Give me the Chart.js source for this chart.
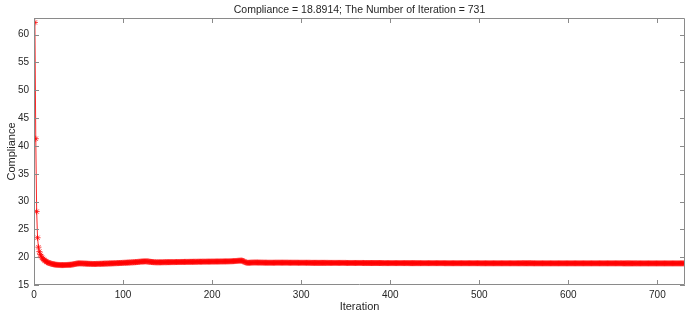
<!DOCTYPE html>
<html>
<head>
<meta charset="utf-8">
<script src="https://cdn.jsdelivr.net/npm/chart.js@4"></script>
<style>
  html, body { margin: 0; padding: 0; background: #fff; }
  #wrap { width: 693px; height: 321px; position: relative; }
</style>
</head>
<body>
<div id="wrap"><canvas id="c" width="693" height="321"></canvas></div>
<script>
const titleText = "Compliance = 18.8914; The Number of Iteration = 731";
const xLabel = "Iteration";
const yLabel = "Compliance";
const xTicks = [0, 100, 200, 300, 400, 500, 600, 700];
const yTicks = [15, 20, 25, 30, 35, 40, 45, 50, 55, 60];

const compliance = [
62.2, 41.3, 28.2, 23.5, 21.8, 21.0, 20.5, 20.2, 19.9, 19.7, 19.55, 19.4, 19.3, 19.2, 19.1, 19.0, 18.95, 18.9, 18.85, 18.8,
18.76, 18.72, 18.69, 18.66, 18.64, 18.62, 18.61, 18.6, 18.59, 18.58, 18.58, 18.58, 18.58, 18.59, 18.59, 18.6, 18.6, 18.61, 18.62, 18.63,
18.64, 18.66, 18.68, 18.7, 18.74, 18.78, 18.82, 18.85, 18.87, 18.88, 18.89, 18.89, 18.88, 18.88, 18.87, 18.86, 18.85, 18.84, 18.83, 18.82,
18.81, 18.8, 18.8, 18.79, 18.79, 18.78, 18.78, 18.78, 18.78, 18.79, 18.79, 18.8, 18.8, 18.81, 18.81, 18.82, 18.82, 18.83, 18.84, 18.84,
18.85, 18.86, 18.86, 18.87, 18.88, 18.88, 18.89, 18.9, 18.9, 18.91, 18.92, 18.92, 18.93, 18.94, 18.94, 18.95, 18.96, 18.96, 18.97, 18.98,
18.99, 19.0, 19.0, 19.01, 19.02, 19.03, 19.04, 19.05, 19.06, 19.07, 19.08, 19.09, 19.1, 19.11, 19.12, 19.14, 19.15, 19.17, 19.18, 19.2,
19.21, 19.22, 19.23, 19.24, 19.25, 19.25, 19.24, 19.22, 19.2, 19.18, 19.16, 19.14, 19.12, 19.11, 19.1, 19.09, 19.08, 19.08, 19.08, 19.08,
19.08, 19.08, 19.09, 19.09, 19.09, 19.1, 19.1, 19.1, 19.1, 19.11, 19.11, 19.11, 19.11, 19.12, 19.12, 19.12, 19.12, 19.12, 19.13, 19.13,
19.13, 19.13, 19.13, 19.14, 19.14, 19.14, 19.14, 19.14, 19.15, 19.15, 19.15, 19.15, 19.15, 19.16, 19.16, 19.16, 19.16, 19.16, 19.17, 19.17,
19.17, 19.17, 19.17, 19.18, 19.18, 19.18, 19.18, 19.18, 19.19, 19.19, 19.19, 19.19, 19.19, 19.2, 19.2, 19.2, 19.2, 19.2, 19.21, 19.21,
19.21, 19.21, 19.21, 19.22, 19.22, 19.22, 19.22, 19.22, 19.23, 19.23, 19.23, 19.23, 19.24, 19.24, 19.24, 19.25, 19.25, 19.25, 19.26, 19.26,
19.27, 19.27, 19.28, 19.29, 19.3, 19.31, 19.32, 19.33, 19.35, 19.36, 19.37, 19.38, 19.38, 19.36, 19.3, 19.2, 19.1, 19.04, 19.0, 18.99,
18.99, 19.0, 19.01, 19.02, 19.03, 19.03, 19.04, 19.04, 19.04, 19.04, 19.04, 19.03, 19.03, 19.03, 19.02, 19.02, 19.02, 19.01, 19.01, 19.01,
19.01, 19.0, 19.0, 19.0, 19.0, 19.0, 19.0, 19.0, 19.0, 19.0, 19.01, 19.01, 19.01, 19.01, 19.01, 19.01, 19.01, 19.01, 19.01, 19.01,
19.01, 19.01, 19.01, 19.01, 19.01, 19.0, 19.0, 19.0, 19.0, 19.0, 19.0, 19.0, 19.0, 19.0, 19.0, 19.0, 18.99, 18.99, 18.99, 18.99,
18.99, 18.99, 18.99, 18.99, 18.99, 18.99, 18.99, 18.99, 18.99, 18.99, 18.98, 18.98, 18.98, 18.98, 18.98, 18.98, 18.98, 18.98, 18.98, 18.98,
18.98, 18.98, 18.98, 18.98, 18.98, 18.98, 18.98, 18.98, 18.98, 18.98, 18.97, 18.97, 18.97, 18.97, 18.97, 18.97, 18.97, 18.97, 18.97, 18.97,
18.97, 18.97, 18.97, 18.97, 18.97, 18.97, 18.97, 18.97, 18.97, 18.97, 18.96, 18.96, 18.96, 18.96, 18.96, 18.96, 18.96, 18.96, 18.96, 18.96,
18.96, 18.96, 18.96, 18.96, 18.96, 18.96, 18.96, 18.96, 18.96, 18.96, 18.95, 18.95, 18.95, 18.95, 18.95, 18.95, 18.95, 18.95, 18.95, 18.95,
18.95, 18.95, 18.95, 18.95, 18.95, 18.95, 18.95, 18.95, 18.95, 18.95, 18.94, 18.94, 18.94, 18.94, 18.94, 18.94, 18.94, 18.94, 18.94, 18.94,
18.94, 18.94, 18.94, 18.94, 18.94, 18.94, 18.94, 18.94, 18.94, 18.94, 18.94, 18.94, 18.94, 18.94, 18.94, 18.94, 18.94, 18.94, 18.94, 18.94,
18.93, 18.93, 18.93, 18.93, 18.93, 18.93, 18.93, 18.93, 18.93, 18.93, 18.93, 18.93, 18.93, 18.93, 18.93, 18.93, 18.93, 18.93, 18.93, 18.93,
18.93, 18.93, 18.93, 18.93, 18.93, 18.93, 18.93, 18.93, 18.93, 18.93, 18.93, 18.93, 18.93, 18.93, 18.93, 18.93, 18.93, 18.93, 18.93, 18.93,
18.92, 18.92, 18.92, 18.92, 18.92, 18.92, 18.92, 18.92, 18.92, 18.92, 18.92, 18.92, 18.92, 18.92, 18.92, 18.92, 18.92, 18.92, 18.92, 18.92,
18.92, 18.92, 18.92, 18.92, 18.92, 18.92, 18.92, 18.92, 18.92, 18.92, 18.92, 18.92, 18.92, 18.92, 18.92, 18.92, 18.92, 18.92, 18.92, 18.92,
18.91, 18.91, 18.91, 18.91, 18.91, 18.91, 18.91, 18.91, 18.91, 18.91, 18.91, 18.91, 18.91, 18.91, 18.91, 18.91, 18.91, 18.91, 18.91, 18.91,
18.91, 18.91, 18.91, 18.91, 18.91, 18.91, 18.91, 18.91, 18.91, 18.91, 18.91, 18.91, 18.91, 18.91, 18.91, 18.91, 18.91, 18.91, 18.91, 18.91,
18.91, 18.91, 18.91, 18.91, 18.91, 18.91, 18.91, 18.91, 18.91, 18.91, 18.91, 18.91, 18.91, 18.91, 18.91, 18.91, 18.91, 18.91, 18.91, 18.91,
18.9, 18.9, 18.9, 18.9, 18.9, 18.9, 18.9, 18.9, 18.9, 18.9, 18.9, 18.9, 18.9, 18.9, 18.9, 18.9, 18.9, 18.9, 18.9, 18.9,
18.9, 18.9, 18.9, 18.9, 18.9, 18.9, 18.9, 18.9, 18.9, 18.9, 18.9, 18.9, 18.9, 18.9, 18.9, 18.9, 18.9, 18.9, 18.9, 18.9,
18.9, 18.9, 18.9, 18.9, 18.9, 18.9, 18.9, 18.9, 18.9, 18.9, 18.9, 18.9, 18.9, 18.9, 18.9, 18.9, 18.9, 18.9, 18.9, 18.9,
18.9, 18.9, 18.9, 18.9, 18.9, 18.9, 18.9, 18.9, 18.9, 18.9, 18.9, 18.9, 18.9, 18.9, 18.9, 18.9, 18.9, 18.9, 18.9, 18.9,
18.9, 18.9, 18.9, 18.9, 18.9, 18.9, 18.9, 18.9, 18.9, 18.9, 18.9, 18.9, 18.9, 18.9, 18.9, 18.9, 18.9, 18.9, 18.9, 18.9,
18.89, 18.89, 18.89, 18.89, 18.89, 18.89, 18.89, 18.89, 18.89, 18.89, 18.89, 18.89, 18.89, 18.89, 18.89, 18.89, 18.89, 18.89, 18.89, 18.89,
18.89, 18.89, 18.89, 18.89, 18.89, 18.89, 18.89, 18.89, 18.89, 18.89, 18.89, 18.89, 18.89, 18.89, 18.89, 18.89, 18.89, 18.89, 18.89, 18.89,
18.89, 18.89, 18.89, 18.89, 18.89, 18.89, 18.89, 18.89, 18.89, 18.89, 18.89, 18.89, 18.89, 18.89, 18.89, 18.89, 18.89, 18.89, 18.89, 18.89,
18.89, 18.89, 18.89, 18.89, 18.89, 18.89, 18.89, 18.89, 18.89, 18.89, 18.8914
];
const iterations = compliance.map((_, i) => i + 1);

const FONT = "'Liberation Sans', Arial, Helvetica, sans-serif";
const AXIS_COLOR = '#8a8a8a';
const TEXT_COLOR = '#262626';

const boxPlugin = {
  id: 'matlabBox',
  afterDraw(chart) {
    const {ctx, chartArea: a, scales: {x, y}} = chart;
    ctx.save();
    ctx.strokeStyle = AXIS_COLOR;
    ctx.lineWidth = 1;
    ctx.beginPath();
    ctx.rect(Math.round(a.left) + 0.5, Math.round(a.top) + 0.5,
             Math.round(a.right - a.left) - 1, Math.round(a.bottom - a.top) - 1);
    const L = 5;
    xTicks.forEach(v => {
      const px = Math.round(x.getPixelForValue(v)) + 0.5;
      ctx.moveTo(px, a.bottom); ctx.lineTo(px, a.bottom - L);
      ctx.moveTo(px, a.top); ctx.lineTo(px, a.top + L);
    });
    yTicks.forEach(v => {
      const py = Math.round(y.getPixelForValue(v)) + 0.5;
      ctx.moveTo(a.left, py); ctx.lineTo(a.left + L, py);
      ctx.moveTo(a.right, py); ctx.lineTo(a.right - L, py);
    });
    ctx.stroke();
    ctx.fillStyle = TEXT_COLOR;
    ctx.font = "10.5px " + FONT;
    ctx.textAlign = 'center';
    ctx.textBaseline = 'middle';
    ctx.fillText(titleText, (a.left + a.right) / 2, 10);
    ctx.restore();
  }
};

new Chart(document.getElementById('c'), {
  type: 'line',
  data: {
    datasets: [{
      data: iterations.map((it, i) => ({x: it, y: compliance[i]})),
      borderColor: 'rgba(255,0,0,0.85)',
      backgroundColor: 'rgba(255,0,0,0.85)',
      borderWidth: 1,
      pointStyle: 'star',
      pointRadius: 3,
      pointBorderColor: 'rgba(255,0,0,0.85)',
      pointBorderWidth: 0.9,
      tension: 0,
      fill: false
    }]
  },
  options: {
    responsive: false,
    animation: false,
    devicePixelRatio: 1,
    layout: { padding: { top: 18, right: 8, left: 0, bottom: 0 } },
    plugins: { legend: { display: false }, tooltip: { enabled: false }, title: { display: false } },
    scales: {
      x: {
        type: 'linear',
        min: 0, max: 731,
        afterFit(s) { s.height = 36; },
        afterBuildTicks(s) { s.ticks = xTicks.map(v => ({value: v})); },
        grid: { display: false, drawTicks: false },
        border: { display: false },
        ticks: { color: TEXT_COLOR, font: { family: FONT, size: 10 }, padding: 4, maxRotation: 0, includeBounds: false },
        title: { display: true, text: xLabel, color: TEXT_COLOR, font: { family: FONT, size: 11 }, padding: { top: 0, bottom: 7 } }
      },
      y: {
        type: 'linear',
        min: 15, max: 63,
        afterFit(s) { s.width = 34; },
        afterBuildTicks(s) { s.ticks = yTicks.map(v => ({value: v})); },
        grid: { display: false, drawTicks: false },
        border: { display: false },
        ticks: { color: TEXT_COLOR, font: { family: FONT, size: 10 }, padding: 5, includeBounds: false },
        title: { display: true, text: yLabel, color: TEXT_COLOR, font: { family: FONT, size: 11 }, padding: { top: 5, bottom: 0 } }
      }
    }
  },
  plugins: [boxPlugin]
});
</script>
</body>
</html>
